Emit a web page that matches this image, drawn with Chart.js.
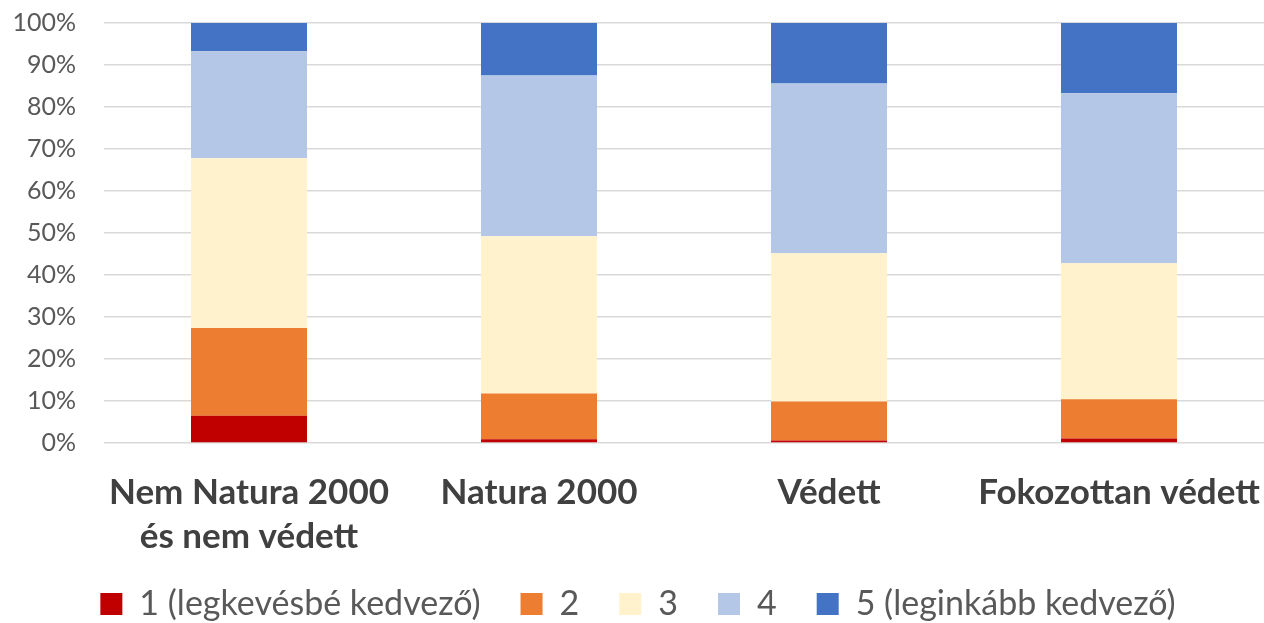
<!DOCTYPE html>
<html>
<head>
<meta charset="utf-8">
<script src="https://cdn.jsdelivr.net/npm/chart.js@4.4.1/dist/chart.umd.min.js"></script>
<style>
    html, body { margin: 0; padding: 0; background: #fff; }
    #wrap { width: 1264px; height: 623px; }
</style>
</head>
<body>
<div id="wrap"><canvas id="myChart"></canvas></div>
<script>
const categories = [["Nem Natura 2000", "és nem védett"], "Natura 2000", "Védett", "Fokozottan védett"];
const seriesNames = ["1 (legkevésbé kedvező)", "2", "3", "4", "5 (leginkább kedvező)"];
const s1 = [6.5, 0.9, 0.6, 1.1];
const s2 = [20.9, 10.9, 9.3, 9.3];
const s3 = [40.4, 37.4, 35.3, 32.4];
const s4 = [25.5, 38.3, 40.4, 40.5];
const s5 = [6.7, 12.5, 14.4, 16.7];
const colors = ['#C00000', '#ED7D31', '#FFF2CC', '#B4C7E7', '#4472C4'];

const font = "Lato, 'Open Sans', sans-serif";

// legend takes less room above its items than its horizontal padding would give
const LEGEND_TRIM = 40;
const legendTrim = {
    id: 'legendTrim',
    beforeInit(chart) {
        const legend = chart.legend;
        const fit = legend.fit.bind(legend);
        legend.fit = () => { fit(); legend.height -= LEGEND_TRIM; };
    },
    afterLayout(chart) {
        chart.legend.top -= LEGEND_TRIM;
    }
};

const ctx = document.getElementById('myChart').getContext('2d');

new Chart(ctx, {
    type: "bar",
    data: {
        labels: categories,
        datasets: [s1, s2, s3, s4, s5].map((d, i) => ({
            label: seriesNames[i],
            data: d,
            backgroundColor: colors[i],
            borderWidth: 0,
            barPercentage: 0.4,
            categoryPercentage: 1
        }))
    },
    plugins: [legendTrim],
    options: {
        responsive: true,
        maintainAspectRatio: false,
        animation: false,
        layout: { padding: { left: 12, right: 0, top: 23, bottom: -8 } },
        plugins: {
            tooltip: { enabled: false },
            legend: {
                position: 'bottom',
                labels: {
                    boxWidth: 22,
                    boxHeight: 22,
                    padding: 40,
                    color: '#595959',
                    font: { family: font, size: 34 }
                }
            }
        },
        scales: {
            x: {
                stacked: true,
                grid: { display: false, drawTicks: false },
                border: { display: false },
                afterFit: s => { s.paddingLeft = 0; s.paddingRight = 0; },
                ticks: {
                    color: '#404040',
                    padding: 28,
                    autoSkip: false,
                    maxRotation: 0,
                    font: { family: font, size: 35, weight: 'bold', lineHeight: 1.257 }
                }
            },
            y: {
                stacked: true,
                min: 0,
                max: 100,
                grid: { drawTicks: false, color: '#D9D9D9', lineWidth: 1.5 },
                border: { display: false },
                afterFit: s => { s.width = 92; s.paddingTop = 0; s.paddingBottom = 0; },
                ticks: {
                    stepSize: 10,
                    padding: 28,
                    color: '#595959',
                    font: { family: font, size: 25 },
                    callback: v => v + '%'
                }
            }
        }
    }
});
</script>
</body>
</html>
